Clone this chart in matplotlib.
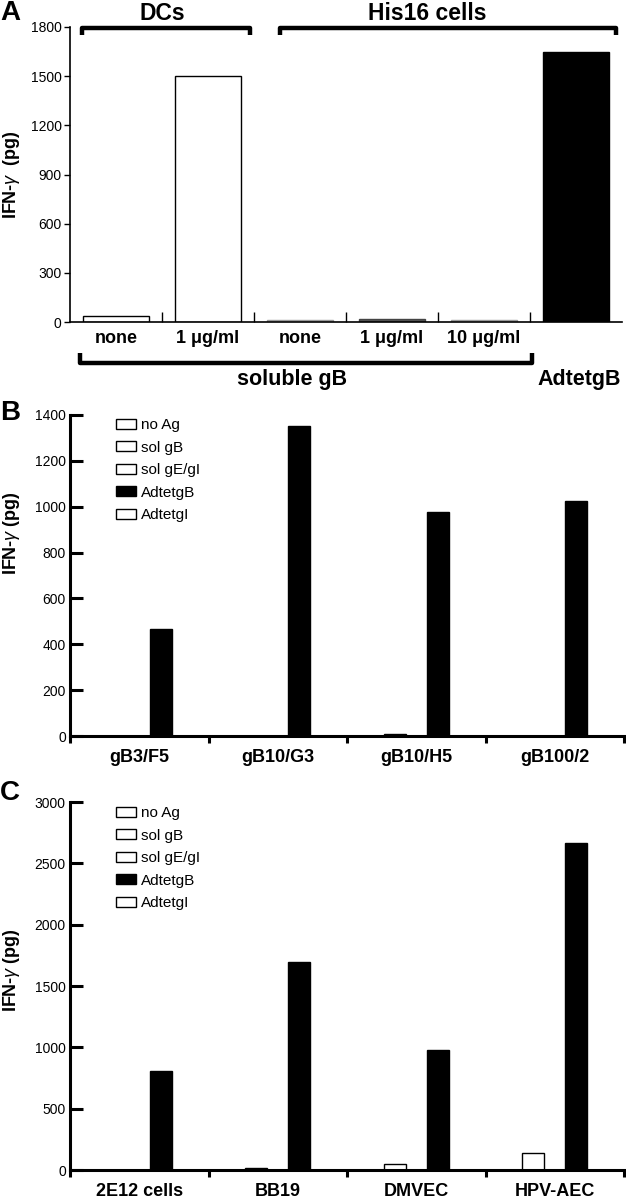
import matplotlib
matplotlib.use("Agg")
import matplotlib.pyplot as plt
import numpy as np

plt.rcParams['font.family'] = ['Liberation Sans', 'DejaVu Sans']
plt.rcParams['mathtext.fontset'] = 'custom'
plt.rcParams['mathtext.rm'] = 'Liberation Sans'
plt.rcParams['mathtext.it'] = 'Liberation Sans:italic'

# ---------------- data ----------------
a_labels = ["none", "1 μg/ml", "none", "1 μg/ml", "10 μg/ml", ""]
a_values = [35, 1500, 10, 18, 10, 1650]
a_colors = ["white", "white", "#c4c4c4", "#555555", "#c4c4c4", "black"]
a_edges = ["black", "black", "#9a9a9a", "#444444", "#9a9a9a", "black"]
a_yticks = [0, 300, 600, 900, 1200, 1500, 1800]

series = ["no Ag", "sol gB", "sol gE/gI", "AdtetgB", "AdtetgI"]
series_colors = ["white", "white", "white", "black", "white"]

b_groups = ["gB3/F5", "gB10/G3", "gB10/H5", "gB100/2"]
b_values = {
    "no Ag":     [0, 0, 0, 0],
    "sol gB":    [0, 0, 8, 0],
    "sol gE/gI": [0, 0, 0, 0],
    "AdtetgB":   [467, 1350, 978, 1027],
    "AdtetgI":   [0, 0, 0, 0],
}
b_yticks = [0, 200, 400, 600, 800, 1000, 1200, 1400]

c_groups = ["2E12 cells", "BB19", "DMVEC", "HPV-AEC"]
c_values = {
    "no Ag":     [0, 0, 0, 0],
    "sol gB":    [0, 15, 46, 136],
    "sol gE/gI": [0, 0, 0, 0],
    "AdtetgB":   [809, 1692, 978, 2666],
    "AdtetgI":   [0, 0, 0, 0],
}
c_yticks = [0, 500, 1000, 1500, 2000, 2500, 3000]

W, H = 626, 1199
fig = plt.figure(figsize=(W / 100, H / 100), dpi=100)

def fx(px):
    return px / W

def fy(py):
    return 1 - py / H

def axrect(l, r, b, t):
    return [fx(l), fy(b), (r - l) / W, (b - t) / H]

ylab = r'IFN-$\gamma$ (pg)'

# ---------------- panel A ----------------
axA = fig.add_axes(axrect(70, 622, 322, 27))
xa = np.arange(len(a_values))
axA.bar(xa, a_values, width=0.72, color=a_colors, edgecolor=a_edges, linewidth=1.0)
axA.set_xlim(-0.5, len(a_values) - 0.5)
axA.set_ylim(0, 1800)
axA.set_yticks(a_yticks)
axA.tick_params(axis='y', direction='out', length=4, width=1, labelsize=10, pad=2)
axA.set_xticks(xa)
axA.set_xticklabels(a_labels, fontsize=13, fontweight='bold')
axA.tick_params(axis='x', which='major', length=0, pad=6)
axA.set_xticks(np.arange(0.5, len(a_values) - 1, 1.0), minor=True)
axA.tick_params(axis='x', which='minor', direction='in', length=7, width=1)
for s in ['top', 'right']:
    axA.spines[s].set_visible(False)
for s in ['left', 'bottom']:
    axA.spines[s].set_linewidth(1.2)

tr = axA.get_xaxis_transform()
def frac(py):
    return (322 - py) / 295.0
def dx(px):
    return (px - 70) / 92.0 - 0.5

bl = 3.2
axA.plot([dx(82), dx(82), dx(250), dx(250)], [frac(35), frac(28), frac(28), frac(35)],
         transform=tr, color='black', lw=bl, clip_on=False, solid_capstyle='butt')
axA.plot([dx(280), dx(280), dx(616), dx(616)], [frac(35), frac(28), frac(28), frac(35)],
         transform=tr, color='black', lw=bl, clip_on=False, solid_capstyle='butt')
axA.plot([dx(80), dx(80), dx(532), dx(532)], [frac(353), frac(363), frac(363), frac(353)],
         transform=tr, color='black', lw=bl, clip_on=False, solid_capstyle='butt')
fig.text(fx(162), fy(13), "DCs", fontsize=16.5, fontweight='bold', ha='center', va='center')
fig.text(fx(427), fy(13), "His16 cells", fontsize=16.5, fontweight='bold', ha='center', va='center')
fig.text(fx(292), fy(379), "soluble gB", fontsize=15.5, fontweight='bold', ha='center', va='center')
fig.text(fx(579), fy(379), "AdtetgB", fontsize=15.5, fontweight='bold', ha='center', va='center')
fig.text(0.0, fy(13), "A", fontsize=20, fontweight='bold', ha='left', va='center')
fig.text(fx(12), fy(175), r'IFN-$\gamma$  (pg)', fontsize=13, fontweight='bold',
         rotation=90, ha='center', va='center')

# ---------------- panels B, C ----------------
def grouped(ax, groups, values, yticks, ymax):
    xg = np.arange(len(groups))
    step = 0.155
    for i, name in enumerate(series):
        ax.bar(xg + (i - 2) * step, values[name], width=0.16,
               color=series_colors[i], edgecolor='black', linewidth=1.0, label=name)
    ax.set_xlim(-0.5, len(groups) - 0.5)
    ax.set_ylim(0, ymax)
    ax.set_yticks(yticks)
    ax.tick_params(axis='y', direction='in', length=9, width=2.2, labelsize=10, pad=3)
    ax.set_xticks(xg)
    ax.set_xticklabels(groups, fontsize=13, fontweight='bold')
    ax.tick_params(axis='x', which='major', length=0, pad=9)
    ax.set_xticks(np.arange(-0.5, len(groups), 1.0), minor=True)
    ax.tick_params(axis='x', which='minor', direction='out', length=5, width=2.2)
    for s in ['top', 'right']:
        ax.spines[s].set_visible(False)
    for s in ['left', 'bottom']:
        ax.spines[s].set_linewidth(2.2)

leg_kw = dict(frameon=False, fontsize=11, handlelength=1.3, handleheight=0.65,
              handletextpad=0.35, labelspacing=0.56, borderaxespad=0, borderpad=0.0)

axB = fig.add_axes(axrect(70, 624, 736, 415))
grouped(axB, b_groups, b_values, b_yticks, 1400)
axB.legend(loc='upper left', bbox_to_anchor=(fx(116), fy(418)), bbox_transform=fig.transFigure,
           **leg_kw)
fig.text(0.0, fy(413), "B", fontsize=20, fontweight='bold', ha='left', va='center')
fig.text(fx(12), fy(533), ylab, fontsize=13, fontweight='bold',
         rotation=90, ha='center', va='center')

axC = fig.add_axes(axrect(70, 624, 1170, 802))
grouped(axC, c_groups, c_values, c_yticks, 3000)
axC.legend(loc='upper left', bbox_to_anchor=(fx(116), fy(806)), bbox_transform=fig.transFigure,
           **leg_kw)
fig.text(0.0, fy(793), "C", fontsize=20, fontweight='bold', ha='left', va='center')
fig.text(fx(12), fy(970), ylab, fontsize=13, fontweight='bold',
         rotation=90, ha='center', va='center')

fig.savefig("out.png", dpi=100)
